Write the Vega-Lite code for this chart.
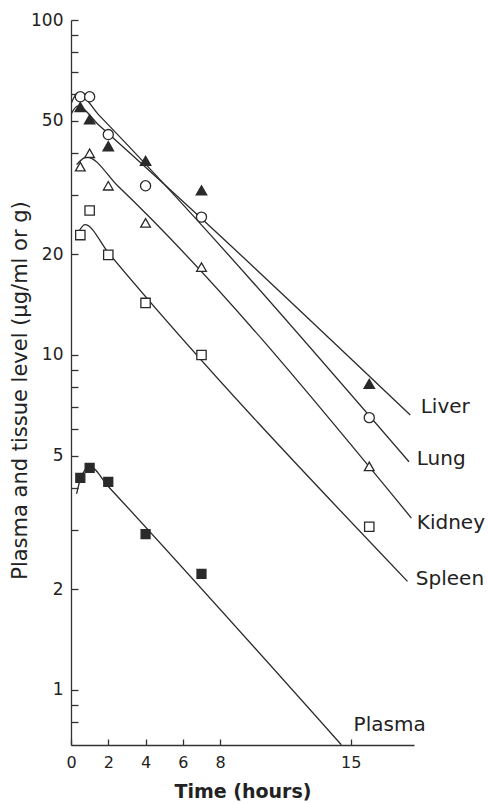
{
  "$schema": "https://vega.github.io/schema/vega-lite/v6.json",
  "width": 343,
  "height": 725,
  "autosize": "none",
  "padding": {"left": 71, "top": 20, "right": 75, "bottom": 58},
  "background": "white",
  "config": {"view": {"stroke": null}, "font": "DejaVu Sans"},
  "datasets": {
    "points": [
      {"organ": "Liver", "t": 0.5, "v": 55},
      {"organ": "Liver", "t": 1, "v": 50.5},
      {"organ": "Liver", "t": 2, "v": 42},
      {"organ": "Liver", "t": 4, "v": 38},
      {"organ": "Liver", "t": 7, "v": 31},
      {"organ": "Liver", "t": 16, "v": 8.2},
      {"organ": "Lung", "t": 0.5, "v": 59},
      {"organ": "Lung", "t": 1, "v": 59},
      {"organ": "Lung", "t": 2, "v": 45.5},
      {"organ": "Lung", "t": 4, "v": 32},
      {"organ": "Lung", "t": 7, "v": 25.8},
      {"organ": "Lung", "t": 16, "v": 6.5},
      {"organ": "Kidney", "t": 0.5, "v": 36.5},
      {"organ": "Kidney", "t": 1, "v": 40},
      {"organ": "Kidney", "t": 2, "v": 32},
      {"organ": "Kidney", "t": 4, "v": 24.8},
      {"organ": "Kidney", "t": 7, "v": 18.3},
      {"organ": "Kidney", "t": 16, "v": 4.65},
      {"organ": "Spleen", "t": 0.5, "v": 22.8},
      {"organ": "Spleen", "t": 1, "v": 27},
      {"organ": "Spleen", "t": 2, "v": 19.9},
      {"organ": "Spleen", "t": 4, "v": 14.3},
      {"organ": "Spleen", "t": 7, "v": 10},
      {"organ": "Spleen", "t": 16, "v": 3.07},
      {"organ": "Plasma", "t": 0.5, "v": 4.3},
      {"organ": "Plasma", "t": 1, "v": 4.6},
      {"organ": "Plasma", "t": 2, "v": 4.18},
      {"organ": "Plasma", "t": 4, "v": 2.92},
      {"organ": "Plasma", "t": 7, "v": 2.22}
    ],
    "curves": [
      {"organ": "Liver", "t": 0.02, "v": 52.5},
      {"organ": "Liver", "t": 0.35, "v": 55.3},
      {"organ": "Liver", "t": 1.5, "v": 48.5},
      {"organ": "Liver", "t": 18.2, "v": 6.62},
      {"organ": "Lung", "t": 0.02, "v": 56.5},
      {"organ": "Lung", "t": 0.35, "v": 60.5},
      {"organ": "Lung", "t": 1.5, "v": 52.0},
      {"organ": "Lung", "t": 18.13, "v": 4.8},
      {"organ": "Kidney", "t": 0.3, "v": 37},
      {"organ": "Kidney", "t": 0.85, "v": 39},
      {"organ": "Kidney", "t": 2.5, "v": 32},
      {"organ": "Kidney", "t": 18.26, "v": 3.26},
      {"organ": "Spleen", "t": 0.35, "v": 23},
      {"organ": "Spleen", "t": 0.75, "v": 24.5},
      {"organ": "Spleen", "t": 2, "v": 20.2},
      {"organ": "Spleen", "t": 18.05, "v": 2.11},
      {"organ": "Plasma", "t": 0.3, "v": 3.85},
      {"organ": "Plasma", "t": 0.5, "v": 4.25},
      {"organ": "Plasma", "t": 1.0, "v": 4.65},
      {"organ": "Plasma", "t": 2.0, "v": 4.05},
      {"organ": "Plasma", "t": 14.5, "v": 0.686}
    ],
    "labels": [
      {"organ": "Liver", "t": 18.76, "v": 7.0},
      {"organ": "Lung", "t": 18.55, "v": 4.9},
      {"organ": "Kidney", "t": 18.55, "v": 3.15},
      {"organ": "Spleen", "t": 18.5, "v": 2.15},
      {"organ": "Plasma", "t": 15.16, "v": 0.787}
    ]
  },
  "encoding": {
    "x": {
      "field": "t", "type": "quantitative",
      "scale": {"domain": [0, 18.4], "nice": false, "zero": false},
      "axis": {
        "title": "Time (hours)",
        "values": [0, 2, 4, 6, 8, 15],
        "grid": false,
        "tickSize": -6,
        "labelPadding": 15,
        "labelFlush": false,
        "labelOverlap": false,
        "labelFontSize": 16,
        "labelColor": "#222",
        "domainColor": "#333",
        "domainWidth": 1.3,
        "tickColor": "#333",
        "tickWidth": 1.3,
        "titleFontSize": 19,
        "titleFontWeight": "bold",
        "titleColor": "#222",
        "titleY": 37,
        "titleBaseline": "top"
      }
    },
    "y": {
      "field": "v", "type": "quantitative",
      "scale": {"type": "log", "domain": [0.685, 100], "nice": false},
      "axis": {
        "title": "Plasma and tissue level (μg/ml or g)",
        "values": [0.8, 0.9, 1, 2, 3, 4, 5, 6, 7, 8, 9, 10, 20, 30, 40, 50, 60, 70, 80, 90, 100],
        "labelExpr": "indexof([1,2,5,10,20,50,100], datum.value) >= 0 ? datum.value + '' : ''",
        "grid": false,
        "tickSize": -7,
        "labelPadding": 15,
        "labelFlush": false,
        "labelOverlap": false,
        "labelFontSize": 17,
        "labelColor": "#222",
        "domainColor": "#333",
        "domainWidth": 1.3,
        "tickColor": "#333",
        "tickWidth": 1.3,
        "titleFontSize": 21,
        "titleFontWeight": "normal",
        "titleColor": "#222",
        "titleX": -41,
        "titleY": 370
      }
    }
  },
  "layer": [
    {
      "data": {"name": "curves"},
      "mark": {"type": "line", "color": "#2a2a2a", "strokeWidth": 1.3, "interpolate": "monotone", "clip": true},
      "encoding": {"detail": {"field": "organ"}}
    },
    {
      "data": {"name": "points"},
      "mark": {"type": "point", "filled": true, "stroke": "#2a2a2a", "strokeWidth": 1.3, "opacity": 1},
      "encoding": {
        "shape": {"field": "organ", "type": "nominal", "legend": null,
          "scale": {"domain": ["Liver", "Lung", "Kidney", "Spleen", "Plasma"], "range": ["triangle-up", "circle", "triangle-up", "square", "square"]}},
        "fill": {"field": "organ", "type": "nominal", "legend": null,
          "scale": {"domain": ["Liver", "Lung", "Kidney", "Spleen", "Plasma"], "range": ["#2a2a2a", "white", "white", "white", "#2a2a2a"]}},
        "size": {"field": "organ", "type": "nominal", "legend": null,
          "scale": {"domain": ["Liver", "Lung", "Kidney", "Spleen", "Plasma"], "range": [110, 80, 110, 70, 80]}}
      }
    },
    {
      "data": {"name": "labels"},
      "mark": {"type": "text", "align": "left", "baseline": "middle", "fontSize": 20, "color": "#222"},
      "encoding": {"text": {"field": "organ"}}
    }
  ]
}
